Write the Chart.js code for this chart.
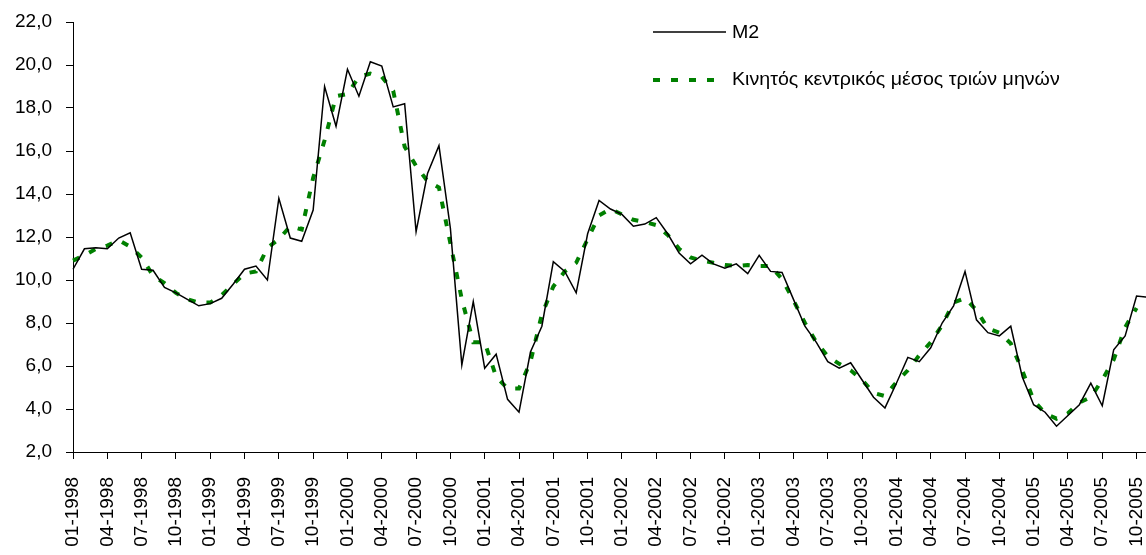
<!DOCTYPE html>
<html>
<head>
<meta charset="utf-8">
<script src="https://cdn.jsdelivr.net/npm/chart.js@4.4.1/dist/chart.umd.min.js"></script>
<style>
  html, body { margin: 0; padding: 0; background: #fff; overflow: hidden; }
  #wrap { width: 1148px; height: 555px; }
</style>
</head>
<body>
<div id="wrap"><canvas id="lineChart" width="1148" height="555"></canvas></div>
<script>
// months 01-1998 .. 11-2005
var years = [1998, 1999, 2000, 2001, 2002, 2003, 2004, 2005]
var labels = []
years.forEach(function (y) {
    for (var m = 1; m <= 12; m++) {
        if (y == 2005 && m > 11) break
        labels.push((m < 10 ? '0' + m : '' + m) + '-' + y)
    }
})

var m2 = [
    10.5, 11.45, 11.5, 11.45, 11.95, 12.2, 10.5, 10.45, 9.65, 9.4,
    9.1, 8.8, 8.9, 9.15, 9.8, 10.5, 10.65, 10.0, 13.8, 11.95,
    11.8, 13.25, 19.0, 17.15, 19.8, 18.55, 20.15, 19.95, 18.05, 18.2,
    12.25, 14.95, 16.25, 12.4, 6.05, 9.0, 5.9, 6.55, 4.45, 3.85,
    6.65, 7.85, 10.85, 10.4, 9.4, 12.15, 13.7, 13.3, 13.05, 12.5,
    12.6, 12.9, 12.15, 11.25, 10.75, 11.15, 10.75, 10.55, 10.75, 10.3,
    11.15, 10.4, 10.35, 9.1, 7.85, 7.1, 6.2, 5.9, 6.15, 5.35,
    4.55, 4.05, 5.2, 6.4, 6.2, 6.85, 8.0, 8.8, 10.4, 8.15,
    7.55, 7.4, 7.85, 5.5, 4.2, 3.85, 3.2, 3.7, 4.2, 5.2,
    4.15, 6.75, 7.4, 9.25, 9.2
]

var avg3 = [
    10.9, 11.15, 11.45, 11.6, 11.85, 11.55, 11.05, 10.2, 9.85, 9.4,
    9.1, 8.95, 8.95, 9.3, 9.8, 10.3, 10.4, 11.5, 11.9, 12.5,
    12.35, 14.75, 16.5, 18.55, 18.65, 19.45, 19.6, 19.45, 18.8, 16.2,
    15.3, 14.6, 14.3, 11.7, 9.1, 7.1, 7.1, 5.5, 4.95, 4.95,
    6.2, 8.4, 9.7, 10.4, 10.8, 11.9, 13.0, 13.3, 13.05, 12.8,
    12.7, 12.55, 12.1, 11.45, 11.05, 10.9, 10.8, 10.7, 10.65, 10.7,
    10.65, 10.65, 10.05, 9.05, 8.0, 7.1, 6.45, 6.1, 5.8, 5.35,
    4.75, 4.6, 5.25, 5.8, 6.5, 7.1, 7.9, 8.95, 9.15, 8.6,
    7.75, 7.55, 7.05, 5.8, 4.4, 3.8, 3.55, 3.8, 4.3, 4.55,
    5.35, 6.3, 7.8, 8.7, null
]

var seriesNames = ['M2', 'Κινητός κεντρικός μέσος τριών μηνών']
var green = 'rgb(0,128,0)'
var font = "'Liberation Sans', Arial, sans-serif"

// legend drawn inside the plot, top right (text a bit wider like the original)
var legendBox = {
    id: 'legendBox',
    afterDraw: function (chart) {
        var c = chart.ctx
        c.save()
        c.strokeStyle = '#000'
        c.lineWidth = 1.5
        c.beginPath(); c.moveTo(653, 32); c.lineTo(726, 32); c.stroke()
        c.strokeStyle = green
        c.lineWidth = 4
        c.setLineDash([7, 11])
        c.beginPath(); c.moveTo(653, 80); c.lineTo(720, 80); c.stroke()
        c.setLineDash([])
        c.font = '18px ' + font
        c.fillStyle = '#000'
        c.textBaseline = 'middle'
        c.save(); c.translate(732, 33); c.scale(1.09, 1); c.fillText(seriesNames[0], 0, 0); c.restore()
        c.save(); c.translate(732, 80); c.scale(1.09, 1); c.fillText(seriesNames[1], 0, 0); c.restore()
        c.restore()
    }
}

var ctx = document.getElementById('lineChart').getContext('2d');
var myChart = new Chart(ctx, {
    type: 'line',
    data: {
        labels: labels,
        datasets: [{
            label: seriesNames[0],
            data: m2,
            borderColor: '#000',
            borderWidth: 1.5,
            pointRadius: 0,
            tension: 0
        }, {
            label: seriesNames[1],
            data: avg3,
            borderColor: green,
            borderWidth: 4,
            borderDash: [7, 11],
            borderCapStyle: 'butt',
            pointRadius: 0,
            tension: 0
        }]
    },
    options: {
        responsive: false,
        animation: false,
        layout: { padding: { top: 22, right: 0, left: 0, bottom: 0 } },
        plugins: { legend: { display: false }, tooltip: { enabled: false } },
        scales: {
            x: {
                offset: false,
                afterFit: function (s) { s.height = 103; s.paddingRight = 0; s.paddingLeft = 0 },
                border: { display: true, color: '#000', width: 1 },
                grid: {
                    drawOnChartArea: false,
                    drawTicks: true,
                    tickLength: 7,
                    tickColor: function (c) { return c.index % 3 == 0 ? '#000' : 'rgba(0,0,0,0)' }
                },
                ticks: {
                    autoSkip: false,
                    minRotation: 90,
                    maxRotation: 90,
                    padding: 18,
                    color: '#000',
                    font: { family: font, size: 19 },
                    callback: function (v, i) { return i % 3 == 0 ? labels[i] : '' }
                }
            },
            y: {
                min: 2,
                max: 22,
                afterFit: function (s) { s.width = 73; s.paddingTop = 0; s.paddingBottom = 0 },
                border: { display: true, color: '#000', width: 1 },
                grid: { drawOnChartArea: false, drawTicks: true, tickLength: 7, tickColor: '#000' },
                ticks: {
                    stepSize: 2,
                    padding: 14,
                    color: '#000',
                    font: { family: font, size: 19 },
                    callback: function (v) { return v.toFixed(1).replace('.', ',') }
                }
            }
        }
    },
    plugins: [legendBox]
});
</script>
</body>
</html>
